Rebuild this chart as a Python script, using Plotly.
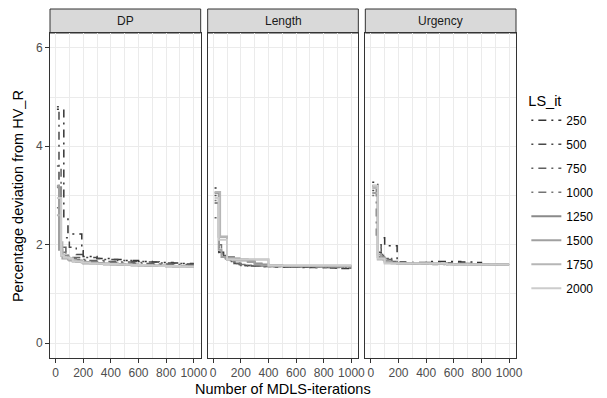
import plotly.graph_objects as go
from plotly.subplots import make_subplots

panels = ["DP", "Length", "Urgency"]
ls_levels = [250, 500, 750, 1000, 1250, 1500, 1750, 2000]
iterations = [10, 25, 40, 50, 60, 75, 90, 100, 125, 150, 190, 200, 250, 300, 350,
              400, 450, 500, 550, 600, 650, 700, 750, 800, 850, 900, 950, 1000]
x_ticks = [0, 200, 400, 600, 800, 1000]
y_ticks = [0, 2, 4, 6]

dp_values = {
    250: [4.75, 4.75, 4.75, 4.75, 2.55, 2.55, 2.22, 2.22, 2.22, 2.22, 1.88, 1.76, 1.76, 1.72,
          1.72, 1.70, 1.70, 1.68, 1.68, 1.66, 1.66, 1.65, 1.64, 1.64, 1.63, 1.62, 1.62, 1.62],
    500: [4.80, 2.14, 2.14, 2.14, 2.14, 2.14, 2.14, 1.95, 1.95, 1.80, 1.80, 1.74, 1.74, 1.72,
          1.70, 1.70, 1.68, 1.68, 1.66, 1.66, 1.65, 1.65, 1.63, 1.63, 1.62, 1.62, 1.61, 1.61],
    750: [3.60, 3.60, 1.95, 1.95, 1.95, 1.78, 1.78, 1.74, 1.74, 1.74, 1.70, 1.70, 1.68, 1.68,
          1.66, 1.66, 1.65, 1.65, 1.64, 1.64, 1.62, 1.62, 1.61, 1.61, 1.60, 1.60, 1.60, 1.60],
    1000: [2.75, 2.75, 1.85, 1.85, 1.85, 1.75, 1.75, 1.72, 1.72, 1.70, 1.68, 1.68, 1.66, 1.66,
           1.65, 1.64, 1.63, 1.62, 1.62, 1.61, 1.60, 1.60, 1.59, 1.59, 1.58, 1.58, 1.58, 1.58],
    1250: [3.17, 3.17, 1.78, 1.78, 1.78, 1.78, 1.72, 1.72, 1.68, 1.68, 1.65, 1.65, 1.64, 1.63,
           1.62, 1.62, 1.61, 1.60, 1.60, 1.59, 1.59, 1.58, 1.58, 1.57, 1.57, 1.57, 1.56, 1.56],
    1500: [3.20, 1.90, 1.90, 1.72, 1.72, 1.72, 1.70, 1.68, 1.66, 1.65, 1.64, 1.62, 1.62, 1.61,
           1.60, 1.60, 1.59, 1.59, 1.58, 1.58, 1.57, 1.57, 1.57, 1.56, 1.56, 1.56, 1.56, 1.56],
    1750: [2.60, 2.60, 2.05, 1.80, 1.74, 1.74, 1.72, 1.70, 1.68, 1.66, 1.65, 1.63, 1.62, 1.61,
           1.61, 1.60, 1.60, 1.59, 1.59, 1.58, 1.58, 1.57, 1.57, 1.57, 1.56, 1.56, 1.55, 1.55],
    2000: [2.95, 2.95, 1.78, 1.78, 1.74, 1.74, 1.74, 1.72, 1.66, 1.66, 1.64, 1.64, 1.62, 1.62,
           1.61, 1.61, 1.60, 1.60, 1.59, 1.59, 1.58, 1.58, 1.57, 1.57, 1.57, 1.56, 1.56, 1.56],
}

length_values = {
    250: [3.15, 3.15, 1.85, 1.85, 1.85, 1.80, 1.80, 1.72, 1.72, 1.65, 1.62, 1.58, 1.58, 1.57,
          1.56, 1.56, 1.56, 1.55, 1.55, 1.55, 1.55, 1.54, 1.54, 1.54, 1.53, 1.52, 1.52, 1.51],
    500: [3.00, 3.00, 1.80, 1.80, 1.80, 1.75, 1.72, 1.70, 1.68, 1.62, 1.60, 1.58, 1.57, 1.57,
          1.56, 1.56, 1.55, 1.55, 1.55, 1.55, 1.54, 1.54, 1.54, 1.54, 1.53, 1.53, 1.53, 1.53],
    750: [2.55, 2.55, 1.95, 1.95, 1.78, 1.78, 1.72, 1.72, 1.66, 1.62, 1.60, 1.58, 1.57, 1.57,
          1.57, 1.56, 1.56, 1.56, 1.56, 1.55, 1.55, 1.55, 1.55, 1.54, 1.54, 1.54, 1.54, 1.54],
    1000: [2.90, 2.90, 2.00, 2.00, 1.82, 1.82, 1.75, 1.70, 1.68, 1.64, 1.62, 1.60, 1.58, 1.57,
           1.57, 1.56, 1.56, 1.56, 1.55, 1.55, 1.55, 1.55, 1.55, 1.55, 1.55, 1.55, 1.55, 1.55],
    1250: [2.85, 2.85, 2.16, 2.16, 2.16, 2.16, 2.16, 1.75, 1.75, 1.72, 1.70, 1.70, 1.68, 1.62,
           1.60, 1.58, 1.58, 1.57, 1.57, 1.57, 1.57, 1.57, 1.57, 1.57, 1.57, 1.57, 1.57, 1.57],
    1500: [3.05, 3.05, 1.90, 1.90, 1.75, 1.75, 1.72, 1.70, 1.70, 1.68, 1.68, 1.68, 1.65, 1.60,
           1.58, 1.58, 1.58, 1.57, 1.57, 1.57, 1.57, 1.57, 1.56, 1.56, 1.56, 1.56, 1.56, 1.56],
    1750: [3.07, 3.07, 3.07, 2.16, 2.16, 2.16, 2.16, 1.72, 1.72, 1.70, 1.70, 1.70, 1.70, 1.70,
           1.70, 1.58, 1.58, 1.58, 1.58, 1.58, 1.58, 1.58, 1.58, 1.58, 1.58, 1.58, 1.58, 1.58],
    2000: [2.95, 2.95, 2.10, 2.10, 2.10, 2.10, 2.10, 1.70, 1.70, 1.70, 1.70, 1.70, 1.70, 1.70,
           1.70, 1.58, 1.58, 1.58, 1.58, 1.58, 1.58, 1.58, 1.58, 1.58, 1.58, 1.58, 1.58, 1.58],
}

urgency_values = {
    250: [3.27, 3.27, 3.27, 2.14, 2.14, 2.14, 2.14, 1.98, 1.98, 1.98, 1.65, 1.65, 1.64, 1.64,
          1.64, 1.66, 1.66, 1.66, 1.66, 1.66, 1.65, 1.65, 1.64, 1.60, 1.60, 1.60, 1.60, 1.60],
    500: [3.10, 3.10, 3.10, 1.85, 1.85, 1.80, 1.80, 1.72, 1.72, 1.66, 1.64, 1.62, 1.62, 1.62,
          1.62, 1.64, 1.64, 1.63, 1.63, 1.63, 1.62, 1.62, 1.61, 1.61, 1.60, 1.60, 1.60, 1.60],
    750: [3.20, 3.20, 2.20, 2.00, 2.00, 1.78, 1.78, 1.72, 1.70, 1.66, 1.64, 1.62, 1.62, 1.61,
          1.61, 1.61, 1.61, 1.61, 1.60, 1.60, 1.60, 1.60, 1.60, 1.60, 1.60, 1.60, 1.60, 1.60],
    1000: [3.00, 3.00, 3.00, 1.95, 1.95, 1.75, 1.75, 1.70, 1.68, 1.64, 1.63, 1.62, 1.61, 1.61,
           1.61, 1.61, 1.60, 1.60, 1.60, 1.60, 1.60, 1.60, 1.60, 1.60, 1.60, 1.60, 1.60, 1.60],
    1250: [3.20, 3.20, 3.20, 1.75, 1.75, 1.75, 1.72, 1.68, 1.66, 1.64, 1.62, 1.62, 1.62, 1.62,
           1.62, 1.62, 1.62, 1.61, 1.61, 1.61, 1.61, 1.60, 1.60, 1.60, 1.60, 1.60, 1.60, 1.60],
    1500: [3.05, 3.05, 3.05, 1.80, 1.80, 1.72, 1.70, 1.66, 1.64, 1.63, 1.62, 1.62, 1.62, 1.62,
           1.62, 1.62, 1.61, 1.61, 1.61, 1.60, 1.60, 1.60, 1.60, 1.60, 1.60, 1.60, 1.60, 1.60],
    1750: [3.15, 3.15, 3.15, 1.70, 1.70, 1.70, 1.70, 1.64, 1.64, 1.62, 1.62, 1.62, 1.62, 1.62,
           1.62, 1.62, 1.62, 1.62, 1.60, 1.60, 1.60, 1.60, 1.60, 1.60, 1.60, 1.60, 1.60, 1.60],
    2000: [3.20, 3.20, 3.20, 1.72, 1.72, 1.72, 1.72, 1.62, 1.62, 1.62, 1.62, 1.62, 1.62, 1.62,
           1.62, 1.62, 1.62, 1.62, 1.60, 1.60, 1.60, 1.60, 1.60, 1.60, 1.60, 1.60, 1.60, 1.60],
}

panel_data = [dp_values, length_values, urgency_values]

colors = ["#333333", "#494949", "#5F5F5F", "#747474", "#8A8A8A", "#A0A0A0", "#B6B6B6", "#CCCCCC"]
dashes = ["2px,5px,8px,5px"] * 4 + ["solid"] * 4
widths = [1.5] * 4 + [2.0] * 4

FONT = "Liberation Sans, Arial, sans-serif"
W, H = 607, 398
ML, MR, MT, MB = 50, 90, 9, 40
PW = W - ML - MR
PH = H - MT - MB
strip_h = 24
ydom_top = (PH - strip_h) / PH

fig = make_subplots(rows=1, cols=3, shared_yaxes=True, horizontal_spacing=7 / PW)

for c, data in enumerate(panel_data, start=1):
    for i, lv in enumerate(ls_levels):
        fig.add_trace(go.Scatter(
            x=iterations, y=data[lv], mode="lines", line_shape="hv",
            line=dict(color=colors[i], width=widths[i], dash=dashes[i]),
            name=str(lv), legendgroup=str(lv), showlegend=(c == 1),
        ), row=1, col=c)

grid = "#EBEBEB"
for c in range(1, 4):
    fig.update_xaxes(
        range=[-40, 1050], tickvals=x_ticks, ticktext=[str(v) for v in x_ticks],
        showgrid=True, gridcolor=grid, gridwidth=1,
        minor=dict(dtick=100, tick0=0, showgrid=True, gridcolor=grid, gridwidth=0.6),
        showline=True, linecolor="#333333", linewidth=1, mirror=True,
        ticks="outside", ticklen=4, tickcolor="#333333", tickwidth=1,
        tickfont=dict(family=FONT, size=12, color="#4D4D4D"),
        zeroline=False, row=1, col=c)
    fig.update_yaxes(
        range=[-0.3, 6.3], tickvals=y_ticks, domain=[0, ydom_top],
        showgrid=True, gridcolor=grid, gridwidth=1,
        minor=dict(dtick=1, tick0=0, showgrid=True, gridcolor=grid, gridwidth=0.6),
        showline=True, linecolor="#333333", linewidth=1, mirror=True,
        ticks="outside" if c == 1 else "", ticklen=4, tickcolor="#333333", tickwidth=1,
        tickfont=dict(family=FONT, size=12, color="#4D4D4D"),
        zeroline=False, row=1, col=c)

shapes = []
annotations = []
for c, name in enumerate(panels, start=1):
    xr = "x domain" if c == 1 else f"x{c} domain"
    shapes.append(dict(type="rect", xref=xr, yref="paper", x0=0, x1=1, y0=ydom_top, y1=1,
                       fillcolor="#D9D9D9", line=dict(color="#333333", width=1), layer="below"))
    annotations.append(dict(text=name, xref=xr, yref="paper", x=0.5, y=(ydom_top + 1) / 2,
                            showarrow=False, xanchor="center", yanchor="middle",
                            font=dict(family=FONT, size=12, color="#1A1A1A")))

annotations.append(dict(text="Number of MDLS-iterations", xref="paper", yref="paper",
                        x=0.5, y=-(389 - (H - MB)) / PH, xanchor="center", yanchor="middle",
                        showarrow=False, font=dict(family=FONT, size=14.5, color="#000000")))
annotations.append(dict(text="Percentage deviation from HV_R", xref="paper", yref="paper",
                        x=-(ML - 18) / PW, y=(H - MB - 196) / PH, xanchor="center", yanchor="middle",
                        textangle=-90, showarrow=False,
                        font=dict(family=FONT, size=14.5, color="#000000")))

fig.update_layout(
    width=W, height=H, margin=dict(l=ML, r=MR, t=MT, b=MB),
    paper_bgcolor="white", plot_bgcolor="white",
    shapes=shapes, annotations=annotations,
    legend=dict(title=dict(text="LS_it", font=dict(family=FONT, size=14.5, color="#000000")),
                font=dict(family=FONT, size=12, color="#000000"),
                x=1.02, xanchor="left", y=(H - MB - 87) / PH, yanchor="top",
                tracegroupgap=5, itemwidth=30, bgcolor="rgba(0,0,0,0)"),
)

fig.write_html("out.html")
